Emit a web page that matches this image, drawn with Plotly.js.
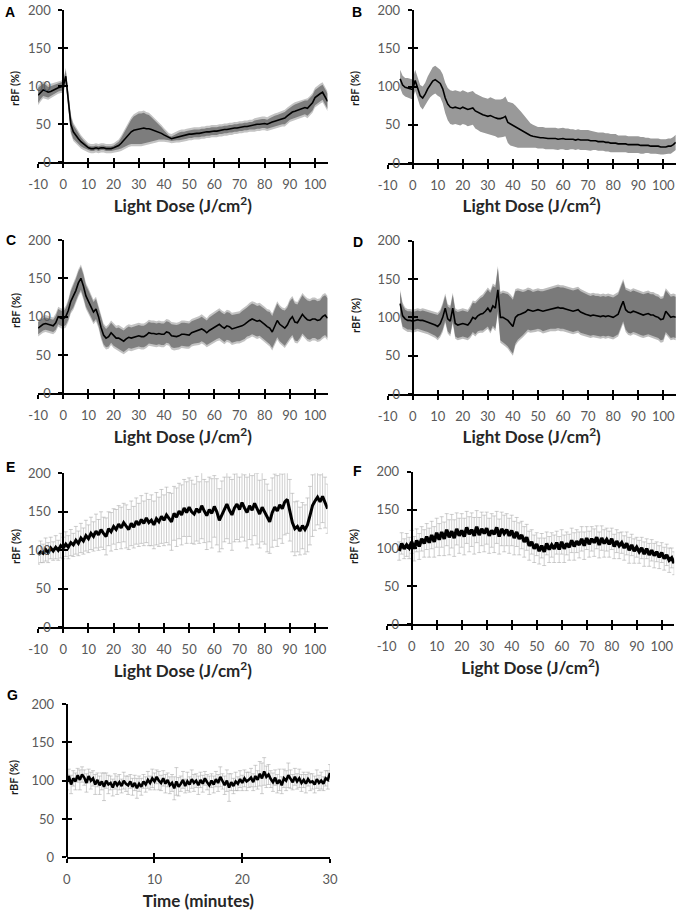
<!DOCTYPE html>
<html>
<head>
<meta charset="utf-8">
<script src="https://cdn.plot.ly/plotly-3.0.1.min.js"></script>
<style>
  html, body { margin: 0; padding: 0; background: #fff; }
  #chart { width: 680px; height: 915px; }
</style>
</head>
<body>
<div id="chart"></div>
<script>
// light dose grid (J/cm2), panels A-F
const doseX = [-10,-9,-8,-7,-6,-5,-4,-3,-2,-1,
    0,1,2,3,4,5,6,7,8,9,10,11,12,13,14,15,16,17,18,19,
    20,21,22,23,24,25,26,27,28,29,30,31,32,33,34,35,36,37,38,39,
    40,41,42,43,44,45,46,47,48,49,50,51,52,53,54,55,56,57,58,59,
    60,61,62,63,64,65,66,67,68,69,70,71,72,73,74,75,76,77,78,79,
    80,81,82,83,84,85,86,87,88,89,90,91,92,93,94,95,96,97,98,99,
    100,101,102,103,104,105];
// B, D, F start at -5
const doseX5 = doseX.slice(5);

// time grid (minutes), panel G
const timeMin = [0,0.25,0.5,0.75,1,1.25,1.5,1.75,2,2.25,2.5,2.75,3,3.25,3.5,3.75,
    4,4.25,4.5,4.75,5,5.25,5.5,5.75,6,6.25,6.5,6.75,7,7.25,7.5,7.75,
    8,8.25,8.5,8.75,9,9.25,9.5,9.75,10,10.25,10.5,10.75,11,11.25,11.5,11.75,
    12,12.25,12.5,12.75,13,13.25,13.5,13.75,14,14.25,14.5,14.75,15,15.25,15.5,15.75,
    16,16.25,16.5,16.75,17,17.25,17.5,17.75,18,18.25,18.5,18.75,19,19.25,19.5,19.75,
    20,20.25,20.5,20.75,21,21.25,21.5,21.75,22,22.25,22.5,22.75,23,23.25,23.5,23.75,
    24,24.25,24.5,24.75,25,25.25,25.5,25.75,26,26.25,26.5,26.75,27,27.25,27.5,27.75,
    28,28.25,28.5,28.75,29,29.25,29.5,29.75,30];

// tick labels
const doseTicks = [-10,0,10,20,30,40,50,60,70,80,90,100];
const doseTickText = ["-10","0","10","20","30","40","50","60","70","80","90","100"];
const timeTicks = [0,10,20,30];
const timeTickText = ["0","10","20","30"];
const rbfTicks = [0,50,100,150,200];
const rbfTickText = ["0","50","100","150","200"];

// rBF (%) and error
const rbfA = [88,92,95,94,92,93,95,97,98,99,
    100,113,82,50,40,35,31,27,24,21,
    19,18,18,19,18,19,19,18,18,18,
    19,20,22,25,29,33,37,40,42,43,
    44,44,45,44,44,43,42,41,40,38,
    36,34,32,31,32,33,34,35,35,36,
    37,37,38,38,38,39,39,40,40,41,
    41,41,42,42,43,43,44,44,45,45,
    46,46,47,47,48,48,49,50,50,51,
    51,50,52,53,54,55,56,57,58,61,
    64,66,67,68,70,71,72,71,74,78,
    85,88,90,92,86,80];
const errA = [10,9,8,8,7,7,6,6,5,5,
    6,8,10,10,9,8,7,6,5,4,
    3,3,3,3,3,3,3,3,3,3,
    3,4,5,7,9,12,14,16,18,19,
    20,20,20,19,18,16,14,12,10,8,
    6,4,3,3,4,4,5,5,5,5,
    5,5,5,5,5,5,5,5,5,5,
    5,5,5,5,5,5,5,5,5,5,
    5,5,5,5,5,5,6,6,6,6,
    6,6,6,7,7,7,7,7,8,8,
    8,8,9,9,9,9,9,10,10,10,
    10,10,10,10,10,10];

const rbfB = [110,102,99,98,97,
    96,108,97,88,85,90,97,103,107,109,
    106,104,97,85,77,73,72,73,72,71,
    73,72,70,71,72,68,66,64,63,62,
    61,62,60,59,58,58,59,61,53,51,
    50,48,46,44,42,40,38,36,35,34,
    33,33,33,32,32,32,32,32,31,32,
    32,31,31,31,31,30,31,30,30,30,
    30,29,29,29,28,28,28,27,27,26,
    26,26,25,25,25,25,24,24,24,24,
    24,23,23,23,23,22,22,22,22,21,
    21,21,22,22,24,27];
const errB = [12,12,12,13,13,
    13,14,14,14,15,15,16,17,18,18,
    18,18,19,20,21,22,22,22,22,22,
    22,22,22,22,22,23,23,23,23,23,
    23,24,24,24,25,25,25,26,27,28,
    28,27,26,24,22,20,18,16,15,14,
    14,14,14,14,14,14,14,14,14,14,
    14,14,14,13,13,13,13,13,13,13,
    13,13,12,12,12,12,12,12,12,12,
    12,12,11,11,11,11,11,11,11,11,
    11,11,11,10,10,10,10,10,10,10,
    10,10,10,10,10,10];

const rbfC = [85,88,90,91,90,89,88,92,100,98,
    97,100,108,120,126,134,144,150,140,127,
    120,113,106,110,100,86,76,72,74,79,
    75,72,72,70,68,71,73,72,73,74,
    75,74,74,76,79,78,78,77,78,77,
    77,80,79,75,74,74,75,77,77,76,
    76,79,80,81,82,84,82,79,82,84,
    86,88,90,87,85,88,87,84,85,86,
    86,88,90,93,95,97,96,94,95,93,
    90,87,85,80,88,95,90,87,85,89,
    96,100,93,92,97,103,99,96,95,97,
    97,95,96,100,102,98];
const errC = [8,8,8,8,8,8,8,9,10,10,
    10,11,12,13,14,15,15,15,15,14,
    14,13,13,13,12,12,12,12,13,13,
    13,13,14,14,14,14,14,14,14,14,
    14,14,14,14,14,14,14,14,14,14,
    14,14,14,15,15,15,15,15,15,15,
    15,15,15,16,16,16,16,16,17,17,
    17,17,18,18,18,18,18,18,18,18,
    18,19,19,19,20,20,20,20,20,20,
    20,20,21,21,22,22,22,22,23,23,
    24,24,24,24,25,25,25,25,25,25,
    25,25,25,26,26,26];

const rbfD = [118,102,98,96,96,
    95,96,97,96,96,95,94,93,92,90,
    88,92,100,112,98,95,112,92,90,91,
    92,91,90,94,100,98,102,104,105,108,
    112,107,115,112,136,100,100,98,96,92,
    88,100,103,104,105,107,110,109,108,109,
    110,109,108,109,110,111,112,112,113,112,
    112,111,110,109,108,109,110,107,105,104,
    103,102,103,102,102,101,102,101,102,101,
    100,102,104,113,121,110,107,106,108,107,
    106,104,103,104,105,103,103,101,100,97,
    98,108,104,100,101,100];
const errD = [15,14,12,12,12,
    12,12,12,12,13,13,13,14,14,14,
    15,15,16,16,16,17,17,17,17,17,
    17,17,17,18,19,20,20,21,22,23,
    24,25,26,27,28,30,32,33,34,35,
    35,34,32,30,28,27,26,26,25,25,
    25,25,26,26,26,26,27,27,27,27,
    27,27,27,27,27,27,27,27,27,27,
    26,26,26,26,26,26,26,26,26,26,
    26,26,26,26,26,26,27,27,27,27,
    27,27,27,27,27,27,27,27,27,27,
    27,27,27,27,27,27];

const rbfE = [94,98,96,101,97,103,99,104,100,106,
    103,108,104,110,107,113,109,116,112,119,
    115,122,118,125,120,127,122,118,128,124,
    131,127,134,129,136,131,127,135,130,138,
    133,140,135,142,136,139,133,141,137,144,
    139,146,141,137,148,143,151,146,155,149,
    156,150,147,154,149,158,151,145,153,148,
    157,150,139,146,153,160,152,146,155,160,
    153,162,155,149,158,152,161,154,147,156,
    150,142,137,149,156,151,159,154,163,166,
    152,136,128,131,125,132,127,133,145,158,
    164,169,163,170,162,154];
const errE = [12,14,12,15,13,14,12,15,13,16,
    14,16,15,17,15,18,16,19,17,20,
    18,21,19,22,20,23,21,24,22,25,
    23,26,24,27,25,28,26,29,27,30,
    28,31,29,32,30,33,31,34,32,35,
    33,36,34,37,35,38,36,39,37,40,
    38,41,39,42,40,43,41,44,42,45,
    40,43,41,44,42,45,43,46,44,46,
    42,45,43,46,44,45,42,46,44,45,
    42,44,41,45,43,46,44,45,43,44,
    40,38,35,33,31,30,32,35,38,40,
    38,36,35,34,33,32];

const rbfF = [96,106,99,104,100,
    108,99,110,102,112,106,115,107,117,108,
    120,111,121,112,124,114,122,113,125,116,
    123,115,127,118,124,116,128,117,125,119,
    126,116,123,118,127,115,125,119,124,116,
    123,113,121,112,117,108,114,103,108,99,
    105,96,103,95,106,98,104,99,107,98,
    108,99,106,101,110,102,109,104,112,103,
    113,105,112,107,114,104,113,106,111,105,
    112,102,109,103,107,100,106,97,104,96,
    101,95,100,92,99,91,97,90,95,88,
    94,86,91,84,87,80];
const errF = [12,14,13,15,14,
    15,16,15,17,16,18,17,19,18,20,
    19,21,20,22,21,23,22,24,21,23,
    22,24,21,23,22,24,21,23,22,24,
    21,23,22,24,21,23,22,24,21,23,
    20,22,19,21,18,20,17,19,16,18,
    15,17,16,18,15,17,16,18,15,17,
    16,18,15,17,16,18,15,17,16,18,
    15,17,16,18,15,17,16,18,15,17,
    14,16,15,17,14,16,15,17,14,16,
    13,15,14,16,13,15,14,16,13,15,
    13,15,14,16,13,15];

const rbfG = [98,106,95,103, 99,107,101,108, 104,97,106,100, 103,95,101,94,
    99,92,100,95, 97,91,99,94, 98,93,100,96, 94,99,92,97,
    90,96,92,99, 95,101,97,103, 99,105,100,97, 103,96,101,94,
    97,90,99,92, 96,101,93,99, 95,102,97,100, 94,101,96,103,
    98,94,100,95, 102,97,105,99, 94,100,91,98, 93,99,96,102,
    97,103,99,101, 104,98,106,101, 109,103,112,105, 108,102,98,104,
    96,101,94,103, 100,107,102,98, 105,99,103,97, 101,96,102,98,
    99,95,102,97, 100,96,103,101, 110];
const errG = [10,9,12,10, 11,9,13,10, 10,12,9,11, 10,13,9,12,
    11,18,10,12, 9,11,10,12, 10,9,11,10, 12,9,11,10,
    13,10,11,9, 10,11,9,12, 11,9,12,10, 10,12,9,11,
    11,15,18,12, 10,11,9,12, 10,12,11,9, 12,10,11,9,
    10,12,9,11, 10,11,13,10, 12,14,18,11, 10,12,9,11,
    10,11,12,10, 12,11,14,12, 16,20,18,14, 13,11,12,10,
    12,14,11,12, 13,16,12,10, 11,10,12,11, 10,12,9,11,
    10,11,12,10, 11,9,10,12, 11];

const doseTitle = "Light Dose (J/cm<sup>2</sup>)";
const timeTitle = "Time (minutes)";

const W = 680, H = 915;
const px2x = (p) => p / W;
const px2y = (p) => 1 - p / H;

// panel geometry in pixels: x-domain, y-domain (bottom, top), y-axis position
const panels = [
    { letter: "A", x: doseX, y: rbfA, err: errA, style: "band", fill: "#7d7d7d", halo: "#c4c4c4",
      xPx: [38.1, 327.6], yPx: [162.3, 10], axisPx: 63.3, range: [-10, 105], title: doseTitle,
      ticks: doseTicks, tickText: doseTickText, letterPx: [10, 12], yTitlePx: [15, 89] },
    { letter: "B", x: doseX5, y: rbfB, err: errB, style: "band", fill: "#999999", halo: null,
      xPx: [387.6, 675.8], yPx: [163, 10], axisPx: 412.7, range: [-10, 105], title: doseTitle,
      ticks: doseTicks, tickText: doseTickText, letterPx: [357, 12], yTitlePx: [355, 89] },
    { letter: "C", x: doseX, y: rbfC, err: errC, style: "band", fill: "#808080", halo: "#c4c4c4",
      xPx: [38.1, 327.6], yPx: [393.3, 240], axisPx: 63.3, range: [-10, 105], title: doseTitle,
      ticks: doseTicks, tickText: doseTickText, letterPx: [11, 240], yTitlePx: [15, 311] },
    { letter: "D", x: doseX5, y: rbfD, err: errD, style: "band", fill: "#7a7a7a", halo: "#bdbdbd",
      xPx: [387.6, 675.8], yPx: [394, 240.7], axisPx: 412.7, range: [-10, 105], title: doseTitle,
      ticks: doseTicks, tickText: doseTickText, letterPx: [358, 242], yTitlePx: [355, 316] },
    { letter: "E", x: doseX, y: rbfE, err: errE, style: "bars", lineWidth: 3,
      xPx: [38.1, 327.6], yPx: [627.3, 473.3], axisPx: 63.3, range: [-10, 105], title: doseTitle,
      ticks: doseTicks, tickText: doseTickText, letterPx: [10, 467], yTitlePx: [15, 547] },
    { letter: "F", x: doseX5, y: rbfF, err: errF, style: "bars", lineWidth: 3.4,
      xPx: [386.7, 674.2], yPx: [624.3, 471.7], axisPx: 411.7, range: [-10, 105], title: doseTitle,
      ticks: doseTicks, tickText: doseTickText, letterPx: [357, 471], yTitlePx: [353, 547] },
    { letter: "G", x: timeMin, y: rbfG, err: errG, style: "bars", lineWidth: 2.6,
      xPx: [66.7, 330], yPx: [857.3, 704], axisPx: 66.7, range: [0, 30], title: timeTitle,
      ticks: timeTicks, tickText: timeTickText, letterPx: [12, 695], yTitlePx: [13, 778] },
];

const tickFont = { family: "Lato, 'Open Sans', sans-serif", size: 13, color: "#595959" };
const titleFont = { family: "Lato, 'Open Sans', sans-serif", size: 17, color: "#262626", weight: "bold" };

const data = [];
const layout = {
    width: W,
    height: H,
    margin: { l: 0, r: 0, t: 0, b: 0 },
    paper_bgcolor: "#ffffff",
    plot_bgcolor: "rgba(0,0,0,0)",
    showlegend: false,
    annotations: [],
};

panels.forEach((p, i) => {
    const n = i + 1;
    const o = n + 7;
    const xId = n === 1 ? "x" : "x" + n;
    const yId = n === 1 ? "y" : "y" + n;
    const xKey = n === 1 ? "xaxis" : "xaxis" + n;
    const yKey = n === 1 ? "yaxis" : "yaxis" + n;
    const xDomain = [px2x(p.xPx[0]), px2x(p.xPx[1])];
    const yDomain = [px2y(p.yPx[0]), px2y(p.yPx[1])];
    const yPos = px2x(p.axisPx);

    if (p.style === "band") {
        const bandX = [...p.x, ...p.x.slice().reverse()];
        if (p.halo) {
            const hiH = p.y.map((v, k) => v + p.err[k] + 3);
            const loH = p.y.map((v, k) => v - p.err[k] - 3);
            data.push({
                x: bandX, y: [...hiH, ...loH.reverse()], xaxis: xId, yaxis: yId,
                mode: "lines", fill: "toself", fillcolor: p.halo, line: { width: 0 }, hoverinfo: "skip",
            });
        }
        const hi = p.y.map((v, k) => v + p.err[k]);
        const lo = p.y.map((v, k) => v - p.err[k]);
        data.push({
            x: bandX, y: [...hi, ...lo.reverse()], xaxis: xId, yaxis: yId,
            mode: "lines", fill: "toself", fillcolor: p.fill, line: { width: 0 }, hoverinfo: "skip",
        });
        data.push({
            x: p.x, y: p.y, xaxis: xId, yaxis: yId,
            mode: "lines", line: { color: "#000000", width: 1.6 },
        });
    } else {
        data.push({
            x: p.x, y: p.y, xaxis: xId, yaxis: yId,
            mode: "lines", line: { color: "#000000", width: p.lineWidth },
            error_y: { type: "data", array: p.err, color: "rgba(160,160,160,0.5)", thickness: 1, width: 2 },
        });
    }

    // empty trace so the overlay axes (crossing tick marks) get drawn
    data.push({ x: [], y: [], xaxis: "x" + o, yaxis: "y" + o, mode: "lines", hoverinfo: "skip" });

    const common = {
        showgrid: false, zeroline: false, fixedrange: true,
        tickcolor: "#000000", tickwidth: 2, ticklen: 4,
    };

    layout[xKey] = Object.assign({}, common, {
        domain: xDomain, range: p.range, anchor: yId,
        showline: true, linecolor: "#000000", linewidth: 2,
        ticks: "outside", tickmode: "array", tickvals: p.ticks, ticktext: p.tickText,
        tickfont: tickFont, ticklabelstandoff: 5,
        title: { text: p.title, font: titleFont, standoff: 9 },
    });
    layout[yKey] = Object.assign({}, common, {
        domain: yDomain, range: [0, 200], anchor: "free", position: yPos,
        showline: true, linecolor: "#000000", linewidth: 2,
        ticks: "outside", tickmode: "array", tickvals: rbfTicks, ticktext: rbfTickText,
        tickfont: tickFont, ticklabelstandoff: 5,
    });
    layout["xaxis" + o] = Object.assign({}, common, {
        overlaying: xId, anchor: yId, range: p.range,
        showline: false, ticks: "inside", tickmode: "array", tickvals: p.ticks, showticklabels: false,
    });
    layout["yaxis" + o] = Object.assign({}, common, {
        overlaying: yId, anchor: "free", position: yPos, range: [0, 200],
        showline: false, ticks: "inside", tickmode: "array", tickvals: rbfTicks, showticklabels: false,
    });

    layout.annotations.push({
        text: "<b>" + p.letter + "</b>", xref: "paper", yref: "paper",
        x: px2x(p.letterPx[0]), y: px2y(p.letterPx[1]), xanchor: "center", yanchor: "middle",
        showarrow: false, font: { family: "Liberation Sans, Arial, sans-serif", size: 14, color: "#000000" },
    });
    layout.annotations.push({
        text: "<b>rBF (%)</b>", xref: "paper", yref: "paper", textangle: -90,
        x: px2x(p.yTitlePx[0]), y: px2y(p.yTitlePx[1]), xanchor: "center", yanchor: "middle",
        showarrow: false, font: { family: "Lato, 'Open Sans', sans-serif", size: 11, color: "#1a1a1a" },
    });
});

Plotly.newPlot(document.getElementById("chart"), data, layout, { staticPlot: true, displayModeBar: false });
</script>
</body>
</html>
